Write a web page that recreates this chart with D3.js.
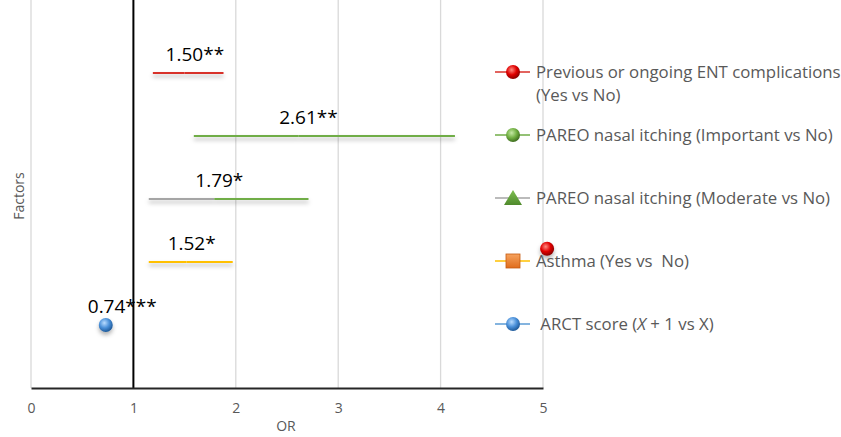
<!DOCTYPE html>
<html>
<head>
<meta charset="utf-8">
<script src="https://cdn.jsdelivr.net/npm/d3@7"></script>
<style>
  body { margin: 0; background: #fff; }
  svg { display: block; }
  .tick text { font-family: "Open Sans", sans-serif; }
</style>
</head>
<body>
<div id="chart"></div>
<script>
// factors, odds ratios and 95% CI
var factors = [
  ["Previous or ongoing ENT complications", "(Yes vs No)"],
  ["PAREO nasal itching (Important vs No)"],
  ["PAREO nasal itching (Moderate vs No)"],
  ["Asthma (Yes vs  No)"],
  [" ARCT score (", "X", " + 1 vs X)"]
];
var orValues = [1.50, 2.61, 1.79, 1.52, 0.74];
var orLabels = ["1.50**", "2.61**", "1.79*", "1.52*", "0.74***"];
var ciLow = [1.19, 1.59, 1.15, 1.15, null];
var ciHigh = [1.88, 4.14, 2.71, 1.97, null];
var rowPos = [5, 4, 3, 2, 1];
var xTicks = [0, 1, 2, 3, 4, 5];

// markers that actually show up on the plot
var pointSeries = [4, 0];
var pointX = [0.73, 5.04];
var pointY = [1, 2.21];

var lowColor = ["#d8302a", "#70ad47", "#a5a5a5", "#ffc000", "#5b9bd5"];
var highColor = ["#d8302a", "#70ad47", "#70ad47", "#ffc000", "#5b9bd5"];
var markerType = ["sphere", "sphere", "triangle", "square", "sphere"];

var W = 841, H = 437;
var svg = d3.select("#chart").append("svg").attr("width", W).attr("height", H);

var x = d3.scaleLinear().domain([0, 5]).range([31, 543]);
var y = d3.scaleLinear().domain([0, 6]).range([388, 10]);

var defs = svg.append("defs");
var shadow = defs.append("filter").attr("id", "shadow")
  .attr("x", "-20%").attr("y", "-200%").attr("width", "140%").attr("height", "500%");
shadow.append("feDropShadow")
  .attr("dx", 0).attr("dy", 3).attr("stdDeviation", 2)
  .attr("flood-color", "#000").attr("flood-opacity", 0.3);

function sphereGrad(id, light, mid, dark) {
  var g = defs.append("radialGradient").attr("id", id)
    .attr("cx", "40%").attr("cy", "35%").attr("r", "65%");
  g.append("stop").attr("offset", "0%").attr("stop-color", light);
  g.append("stop").attr("offset", "55%").attr("stop-color", mid);
  g.append("stop").attr("offset", "100%").attr("stop-color", dark);
}
sphereGrad("g0", "#ff8a80", "#e00000", "#8a0000");
sphereGrad("g1", "#c5e8a5", "#72b043", "#3f6e1f");
sphereGrad("g4", "#b9dcff", "#4a90d9", "#1f5a9a");
var sq = defs.append("linearGradient").attr("id", "g3").attr("x1", 0).attr("y1", 0).attr("x2", 0).attr("y2", 1);
sq.append("stop").attr("offset", "0%").attr("stop-color", "#f6a25e");
sq.append("stop").attr("offset", "100%").attr("stop-color", "#e06d1c");
var tr = defs.append("linearGradient").attr("id", "g2").attr("x1", 0).attr("y1", 0).attr("x2", 0).attr("y2", 1);
tr.append("stop").attr("offset", "0%").attr("stop-color", "#7fbf52");
tr.append("stop").attr("offset", "100%").attr("stop-color", "#4f8a2c");

// gridlines
svg.append("g").selectAll("line")
  .data(xTicks.filter(function(d) { return d !== 1; }))
  .enter().append("line")
    .attr("x1", function(d) { return x(d); })
    .attr("x2", function(d) { return x(d); })
    .attr("y1", 0).attr("y2", y(0))
    .attr("stroke", "#d9d9d9").attr("stroke-width", 1.3);

// OR = 1 reference line
svg.append("line")
  .attr("x1", x(1)).attr("x2", x(1)).attr("y1", 0).attr("y2", y(0))
  .attr("stroke", "#000").attr("stroke-width", 2);

// x axis
var xAxis = svg.append("g")
  .attr("transform", "translate(0," + y(0) + ")")
  .call(d3.axisBottom(x).tickValues(xTicks).tickFormat(d3.format("d")).tickSize(0).tickPadding(15));
xAxis.select(".domain").attr("stroke", "#262626").attr("stroke-width", 2.2);
xAxis.selectAll("text").attr("fill", "#595959").style("font-size", "14px");

svg.append("text")
  .attr("x", 286).attr("y", 431)
  .attr("text-anchor", "middle")
  .style("font-family", "Open Sans, sans-serif").style("font-size", "14px")
  .attr("fill", "#595959").text("OR");

svg.append("text")
  .attr("transform", "translate(24,196) rotate(-90)")
  .attr("text-anchor", "middle")
  .style("font-family", "Open Sans, sans-serif").style("font-size", "14px")
  .attr("fill", "#595959").text("Factors");

// CI arms
var arms = svg.append("g").attr("filter", "url(#shadow)");
factors.forEach(function(f, i) {
  if (ciLow[i] == null) return;
  arms.append("line")
    .attr("x1", x(ciLow[i])).attr("x2", x(orValues[i]))
    .attr("y1", y(rowPos[i])).attr("y2", y(rowPos[i]))
    .attr("stroke", lowColor[i]).attr("stroke-width", 2);
  arms.append("line")
    .attr("x1", x(orValues[i])).attr("x2", x(ciHigh[i]))
    .attr("y1", y(rowPos[i])).attr("y2", y(rowPos[i]))
    .attr("stroke", highColor[i]).attr("stroke-width", 2);
});

// labels
svg.append("g").selectAll("text")
  .data(orLabels)
  .enter().append("text")
    .attr("x", function(d, i) { return x(orValues[i]) - 19; })
    .attr("y", function(d, i) { return y(rowPos[i]) - 12; })
    .style("font-family", "Open Sans, sans-serif").style("font-size", "19px")
    .attr("fill", "#000")
    .text(function(d) { return d; });

function drawMarker(g, i, cx, cy) {
  if (markerType[i] === "sphere") {
    g.append("circle").attr("cx", cx).attr("cy", cy).attr("r", 7)
      .attr("fill", "url(#g" + i + ")");
  } else if (markerType[i] === "triangle") {
    g.append("path")
      .attr("d", "M" + cx + "," + (cy - 8) + "L" + (cx + 9) + "," + (cy + 7) + "L" + (cx - 9) + "," + (cy + 7) + "Z")
      .attr("fill", "url(#g2)");
  } else {
    g.append("rect").attr("x", cx - 7).attr("y", cy - 7).attr("width", 14).attr("height", 14)
      .attr("fill", "url(#g3)").attr("stroke", "#c55a11").attr("stroke-width", 0.8);
  }
}

// points
var pts = svg.append("g").attr("filter", "url(#shadow)");
pointSeries.forEach(function(s, k) {
  drawMarker(pts, s, x(pointX[k]), y(pointY[k]));
});

// legend, rows aligned with the plot rows
var legend = svg.append("g");
factors.forEach(function(f, i) {
  var ly = y(rowPos[i]) - 1;
  legend.append("line")
    .attr("x1", 495).attr("x2", 530).attr("y1", ly).attr("y2", ly)
    .attr("stroke", lowColor[i]).attr("stroke-width", 1.5);
  drawMarker(legend, i, 513, ly);
  var t = legend.append("text")
    .attr("x", 536).attr("y", ly + 6)
    .attr("xml:space", "preserve")
    .style("white-space", "pre")
    .style("font-family", "Open Sans, sans-serif").style("font-size", "16.8px")
    .attr("fill", "#595959");
  if (i === 0) {
    f.forEach(function(line, j) {
      t.append("tspan").attr("x", 536).attr("dy", j === 0 ? 0 : 23).text(line);
    });
  } else if (i === 4) {
    f.forEach(function(part, j) {
      t.append("tspan").style("font-style", j === 1 ? "italic" : "normal").text(part);
    });
  } else {
    t.text(f[0]);
  }
});
</script>
</body>
</html>
